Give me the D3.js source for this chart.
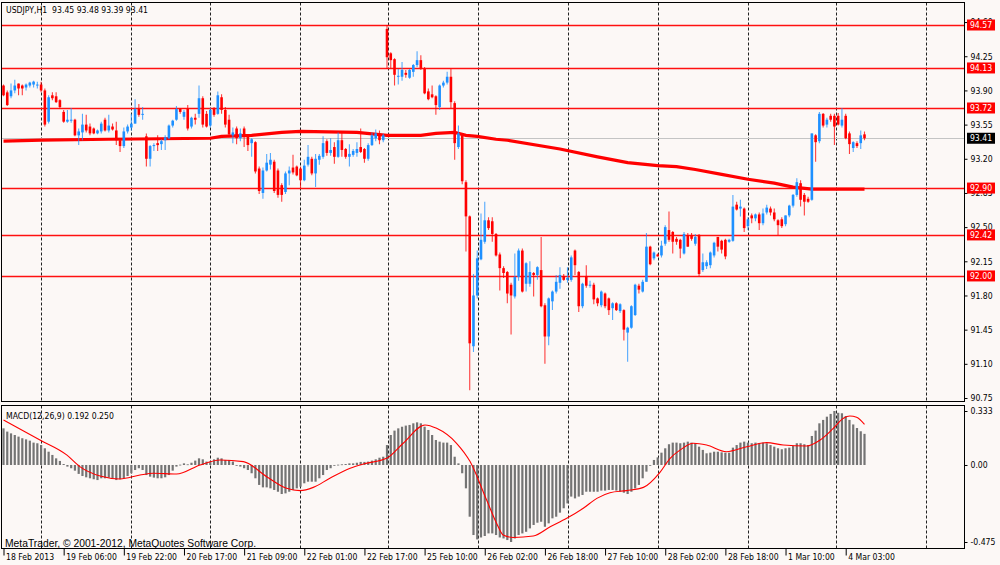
<!DOCTYPE html>
<html lang="en">
<head>
<meta charset="UTF-8">
<title>USDJPY,H1</title>
<script src="https://d3js.org/d3.v7.min.js"></script>
<style>
    body { margin: 0; background: #fcf8f6; }
    svg { display: block; }
    text { font-family: "DejaVu Sans Condensed", "DejaVu Sans", sans-serif; font-size: 8.6px; fill: #000; }
    .axis path { display: none; }
    .axis line { stroke: #000; }
    .grid line { stroke: #222; stroke-dasharray: 3,2; }
</style>
</head>
<body>
<svg width="1000" height="565"></svg>
<script>
    // Hourly candles, one entry per bar
    const barOpen = [
        93.95,93.88,93.84,93.90,93.97,93.95,93.93,93.95,93.96,93.95,93.96,93.90,93.58,93.85,93.84,93.80,93.68,93.58,93.59,93.60,
        93.44,93.47,93.55,93.53,93.51,93.46,93.48,93.60,93.49,93.53,93.49,93.39,93.33,93.48,93.52,93.56,93.71,93.65,93.43,93.20,
        93.33,93.36,93.35,93.39,93.41,93.54,93.60,93.71,93.63,93.71,93.53,93.62,93.66,93.82,93.66,93.54,93.71,93.66,93.83,93.70,
        93.60,93.44,93.51,93.41,93.51,93.44,93.36,93.37,93.10,92.85,93.08,93.14,93.17,93.08,92.93,92.86,93.05,93.11,93.12,93.10,
        92.98,93.14,93.20,93.05,93.19,93.22,93.38,93.26,93.32,93.22,93.39,93.30,93.22,93.24,93.26,93.32,93.30,93.20,93.34,93.41,
        93.44,93.39,94.53,94.28,94.22,94.04,94.04,94.08,94.03,94.09,94.16,94.21,94.12,93.89,93.86,93.84,93.73,93.95,93.98,94.04,
        93.77,93.32,93.44,92.96,92.61,91.28,91.80,92.17,92.35,92.57,92.56,92.43,92.22,92.08,92.04,91.91,91.79,91.99,92.26,91.92,
        91.92,92.03,92.01,92.06,91.70,91.38,91.74,91.84,91.93,92.00,91.96,91.96,92.26,92.04,91.69,92.00,91.90,91.91,91.77,91.70,
        91.82,91.77,91.67,91.72,91.64,91.65,91.42,91.47,91.60,91.90,91.84,91.94,92.30,92.18,92.22,92.21,92.33,92.47,92.45,92.38,
        92.37,92.23,92.42,92.42,92.33,92.42,92.06,92.10,92.11,92.21,92.40,92.36,92.37,92.35,92.36,92.73,92.69,92.69,92.51,92.62,
        92.59,92.63,92.54,92.65,92.69,92.65,92.57,92.58,92.53,92.62,92.72,92.83,92.95,92.83,92.79,92.78,93.44,93.38,93.66,93.55,
        93.64,93.64,93.64,93.54,93.64,93.46,93.31,93.36,93.36,93.45
    ];
    const barHigh = [
        93.96,93.90,93.97,94.01,93.97,93.96,93.97,93.99,94.00,93.99,93.99,93.92,93.85,93.88,93.88,93.81,93.70,93.70,93.72,93.61,
        93.51,93.66,93.65,93.56,93.52,93.50,93.58,93.62,93.65,93.56,93.58,93.40,93.52,93.55,93.66,93.81,93.76,93.73,93.46,93.34,
        93.36,93.44,93.40,93.44,93.55,93.60,93.74,93.72,93.70,93.75,93.63,93.66,93.95,93.84,93.69,93.72,93.73,93.89,93.86,93.73,
        93.65,93.52,93.53,93.51,93.53,93.45,93.41,93.38,93.12,93.11,93.25,93.26,93.19,93.10,92.95,93.07,93.12,93.24,93.13,93.12,
        93.19,93.34,93.22,93.25,93.25,93.43,93.40,93.41,93.37,93.47,93.47,93.31,93.35,93.30,93.37,93.51,93.31,93.36,93.47,93.50,
        93.49,93.46,94.57,94.29,94.23,94.12,94.19,94.11,94.12,94.17,94.30,94.26,94.14,93.92,93.95,93.85,93.96,94.00,94.09,94.12,
        93.79,93.54,93.46,92.98,92.62,92.02,92.26,92.64,92.76,92.60,92.60,92.44,92.24,92.10,92.05,91.93,92.23,92.28,92.28,92.14,
        92.15,92.04,92.10,92.40,91.72,91.78,91.85,92.01,92.09,92.02,92.09,92.21,92.27,92.05,91.93,92.11,91.95,91.93,91.78,91.85,
        91.83,91.78,91.73,91.73,91.72,91.66,91.48,91.70,91.92,91.92,91.96,92.44,92.31,92.25,92.23,92.36,92.52,92.66,92.46,92.40,
        92.38,92.45,92.44,92.44,92.43,92.43,92.23,92.16,92.25,92.35,92.40,92.37,92.38,92.38,92.83,92.76,92.78,92.70,92.60,92.64,
        92.64,92.65,92.69,92.73,92.71,92.69,92.58,92.60,92.62,92.73,92.84,93.00,92.98,92.85,92.81,93.46,93.45,93.68,93.67,93.62,
        93.66,93.66,93.67,93.72,93.66,93.48,93.38,93.38,93.49,93.48
    ];
    const barLow = [
        93.84,93.74,93.82,93.87,93.85,93.85,93.90,93.93,93.93,93.92,93.88,93.53,93.56,93.80,93.77,93.72,93.57,93.57,93.57,93.43,
        93.34,93.39,93.47,93.44,93.45,93.45,93.46,93.48,93.47,93.49,93.34,93.27,93.31,93.46,93.49,93.56,93.63,93.60,93.12,93.12,
        93.28,93.28,93.29,93.29,93.40,93.52,93.59,93.66,93.60,93.49,93.51,93.55,93.62,93.52,93.52,93.52,93.63,93.65,93.66,93.52,
        93.42,93.36,93.35,93.38,93.32,93.28,93.22,93.05,92.84,92.79,93.07,93.09,92.85,92.80,92.76,92.84,92.93,93.04,93.02,92.90,
        92.97,93.12,93.03,92.91,93.14,93.20,93.23,93.23,93.15,93.21,93.22,93.20,93.12,93.22,93.22,93.26,93.16,93.18,93.33,93.38,
        93.35,93.37,94.12,94.13,93.95,93.96,94.00,94.03,94.02,94.04,94.14,94.11,93.86,93.80,93.82,93.65,93.70,93.93,93.96,93.72,
        93.19,93.30,92.94,92.25,90.83,91.22,91.77,92.16,92.33,92.47,92.35,92.20,91.85,91.98,91.72,91.40,91.77,91.95,91.83,91.84,
        91.89,91.79,91.96,91.68,91.10,91.29,91.65,91.82,91.87,91.95,91.93,91.94,92.01,91.63,91.67,91.88,91.88,91.71,91.69,91.68,
        91.67,91.60,91.55,91.64,91.62,91.34,91.12,91.46,91.59,91.82,91.83,91.94,92.11,92.16,92.20,92.19,92.31,92.35,92.23,92.32,
        92.18,92.22,92.30,92.36,92.31,92.00,92.04,92.07,92.08,92.19,92.25,92.23,92.17,92.34,92.35,92.67,92.61,92.45,92.47,92.54,
        92.56,92.47,92.52,92.63,92.62,92.56,92.42,92.49,92.51,92.60,92.70,92.81,92.71,92.62,92.75,92.77,93.17,93.36,93.52,93.52,
        93.58,93.34,93.54,93.52,93.40,93.25,93.27,93.31,93.30,93.39
    ];
    const barClose = [
        93.85,93.75,93.90,93.95,93.92,93.92,93.96,93.98,93.99,93.96,93.90,93.55,93.83,93.82,93.78,93.73,93.58,93.60,93.60,93.44,
        93.48,93.55,93.49,93.46,93.46,93.49,93.56,93.49,93.54,93.50,93.39,93.33,93.48,93.53,93.56,93.71,93.65,93.66,93.20,93.33,
        93.34,93.34,93.38,93.42,93.54,93.59,93.71,93.68,93.68,93.51,93.62,93.60,93.82,93.55,93.53,93.70,93.65,93.85,93.70,93.55,
        93.45,93.47,93.41,93.46,93.43,93.34,93.40,93.07,92.87,93.08,93.16,93.19,92.87,92.83,92.83,93.05,93.08,93.06,93.03,92.98,
        93.13,93.22,93.05,93.20,93.23,93.36,93.26,93.29,93.22,93.39,93.29,93.22,93.25,93.28,93.30,93.27,93.20,93.34,93.44,93.46,
        93.39,93.44,94.24,94.21,94.06,94.05,94.11,94.06,94.11,94.16,94.21,94.13,93.87,93.81,93.83,93.75,93.95,93.98,94.04,93.78,
        93.36,93.46,92.97,92.61,91.31,91.80,92.18,92.37,92.57,92.49,92.43,92.21,92.08,92.03,91.82,91.80,91.99,92.26,91.84,92.13,
        92.04,92.01,92.09,91.69,91.38,91.77,91.84,91.94,92.01,91.96,91.98,92.19,92.11,91.69,91.92,91.90,91.91,91.76,91.72,91.84,
        91.69,91.65,91.72,91.65,91.71,91.45,91.47,91.69,91.91,91.86,91.94,92.30,92.12,92.24,92.20,92.31,92.50,92.37,92.35,92.35,
        92.28,92.43,92.30,92.38,92.40,92.02,92.14,92.14,92.24,92.34,92.30,92.27,92.20,92.37,92.71,92.68,92.71,92.49,92.58,92.59,
        92.63,92.54,92.64,92.70,92.65,92.58,92.52,92.51,92.62,92.72,92.83,92.96,92.78,92.76,92.76,93.46,93.37,93.66,93.54,93.60,
        93.60,93.53,93.55,93.60,93.41,93.35,93.37,93.33,93.44,93.41
    ];

    // Moving average, read as a polyline (bar index, price)
    const maBars   = [0, 10, 28, 55, 58, 66, 74, 79, 94, 102, 111, 115, 120, 123, 126, 131, 134, 148, 158, 166, 174, 179, 184, 191, 198, 205, 210, 215, 229];
    const maValues = [93.38, 93.39, 93.40, 93.41, 93.43, 93.44, 93.47, 93.48, 93.47, 93.44, 93.44, 93.46, 93.47, 93.44, 93.43, 93.40, 93.39, 93.30, 93.22, 93.16, 93.13, 93.12, 93.09, 93.04, 92.99, 92.95, 92.91, 92.89, 92.89];

    // MACD(12,26,9) main histogram, one value per bar
    const macdMain = [
        0.226,0.206,0.195,0.185,0.175,0.165,0.158,0.150,0.138,0.134,0.123,0.103,0.082,0.062,0.041,0.025,0.006,-0.010,-0.020,-0.035,
        -0.055,-0.068,-0.076,-0.082,-0.088,-0.093,-0.082,-0.082,-0.078,-0.082,-0.093,-0.088,-0.082,-0.068,-0.051,-0.031,-0.020,-0.031,-0.062,-0.072,
        -0.078,-0.082,-0.082,-0.076,-0.062,-0.035,-0.010,0.002,0.010,0.004,0.014,0.027,0.041,0.035,0.021,0.021,0.035,0.045,0.041,0.031,
        0.031,0.021,0.000,-0.010,-0.020,-0.031,-0.051,-0.082,-0.123,-0.138,-0.138,-0.144,-0.154,-0.165,-0.179,-0.175,-0.165,-0.154,-0.144,-0.134,
        -0.113,-0.103,-0.103,-0.103,-0.082,-0.062,-0.031,-0.020,-0.002,0.002,0.004,0.006,0.010,0.010,0.014,0.019,0.019,0.021,0.027,0.035,
        0.045,0.051,0.123,0.185,0.212,0.226,0.236,0.243,0.247,0.257,0.263,0.257,0.236,0.216,0.185,0.154,0.144,0.138,0.138,0.123,
        0.051,0.010,-0.051,-0.144,-0.319,-0.432,-0.459,-0.447,-0.438,-0.422,-0.422,-0.432,-0.447,-0.453,-0.463,-0.475,-0.453,-0.432,-0.422,-0.412,
        -0.391,-0.370,-0.356,-0.350,-0.381,-0.360,-0.329,-0.319,-0.294,-0.267,-0.237,-0.195,-0.206,-0.195,-0.185,-0.165,-0.165,-0.165,-0.165,-0.158,
        -0.158,-0.154,-0.154,-0.158,-0.165,-0.171,-0.179,-0.165,-0.144,-0.123,-0.082,-0.041,-0.004,0.031,0.047,0.076,0.103,0.128,0.138,0.138,
        0.134,0.138,0.144,0.138,0.134,0.113,0.093,0.072,0.076,0.082,0.082,0.078,0.076,0.076,0.107,0.123,0.138,0.144,0.138,0.134,
        0.138,0.134,0.138,0.134,0.123,0.113,0.103,0.097,0.103,0.107,0.117,0.134,0.134,0.128,0.123,0.179,0.212,0.257,0.278,0.298,
        0.315,0.333,0.322,0.319,0.302,0.278,0.250,0.228,0.208,0.192
    ];
    // MACD signal line, read as a polyline (bar index, value)
    const signalBars   = [0, 9.7, 16.8, 20.3, 25.7, 31, 36.3, 39.8, 46, 52.3, 57.6, 63.8, 70, 75.3, 78.9, 82.4, 86.8, 92.2, 95.7, 101.9, 106.3, 112.1, 115.2, 120.5, 124.1, 128.5, 131.2, 132.9, 135.6, 140.9, 145.4, 149.8, 154.2, 157.8, 161.3, 165.7, 170.2, 174.6, 177.3, 180, 183.5, 187, 192.3, 197.7, 203, 207.4, 213.6, 217.2, 220.7, 223.4, 225.1, 226.9, 229];
    const signalValues = [0.278, 0.154, 0.062, -0.010, -0.068, -0.086, -0.062, -0.051, -0.056, 0.000, 0.031, 0.021, -0.072, -0.144, -0.158, -0.138, -0.082, -0.020, 0.006, 0.041, 0.134, 0.247, 0.226, 0.134, 0.021, -0.216, -0.362, -0.432, -0.447, -0.438, -0.381, -0.329, -0.267, -0.206, -0.171, -0.158, -0.138, -0.045, 0.041, 0.093, 0.134, 0.123, 0.082, 0.113, 0.138, 0.123, 0.117, 0.154, 0.226, 0.288, 0.302, 0.294, 0.250];

    // Horizontal price levels and the bid line
    const levelPrices = [94.57, 94.13, 93.72, 92.90, 92.42, 92.00];
    const bidPrice = 93.41;

    // Axis ticks
    const priceTicks = [90.75, 91.10, 91.45, 91.80, 92.15, 92.50, 92.85, 93.20, 93.55, 93.90, 94.25, 94.60];
    const macdTicks = [0.333, 0, -0.475];
    const macdTickLabels = ["0.333", "0.00", "-0.475"];
    const timeTickBars = [0, 16, 32, 48, 64, 80, 96, 112, 128, 144, 160, 176, 192, 208, 224];
    const timeTickLabels = ["18 Feb 2013", "19 Feb 06:00", "19 Feb 22:00", "20 Feb 17:00", "21 Feb 09:00", "22 Feb 01:00", "22 Feb 17:00",
        "25 Feb 10:00", "26 Feb 02:00", "26 Feb 18:00", "27 Feb 10:00", "28 Feb 02:00", "28 Feb 18:00", "1 Mar 10:00", "4 Mar 03:00"];
    // day separators (bar positions of the dashed grid)
    const daySepBars = [9.97, 33.9, 54.9, 78.9, 102.3, 126.2, 150.1, 174.1, 198, 221.4, 245.3];

    const svg = d3.select("svg");
    const left = 1.5, right = 964.5;
    const main = {top: 2.5, bottom: 401.5};
    const sub = {top: 405.5, bottom: 548.5};

    const x = d3.scaleLinear().domain([0, 229]).range([3.5, 864.5]);
    const yPrice = d3.scaleLinear().domain([90.75, 94.57]).range([398, 25]);
    const yMacd = d3.scaleLinear().domain([-0.475, 0.333]).range([542, 411]);

    const bars = d3.range(barClose.length);

    // clip paths for both panels
    const defs = svg.append("defs");
    defs.append("clipPath").attr("id", "clipMain").append("rect")
        .attr("x", left).attr("y", main.top).attr("width", right - left).attr("height", main.bottom - main.top);
    defs.append("clipPath").attr("id", "clipSub").append("rect")
        .attr("x", left).attr("y", sub.top).attr("width", right - left).attr("height", sub.bottom - sub.top);

    const gMain = svg.append("g").attr("clip-path", "url(#clipMain)");
    const gSub = svg.append("g").attr("clip-path", "url(#clipSub)");

    // dashed day grid in both panels
    [[gMain, main], [gSub, sub]].forEach(([g, p]) => {
        g.append("g").attr("class", "grid")
            .selectAll("line").data(daySepBars).join("line")
            .attr("x1", d => Math.round(x(d)) + 0.5).attr("x2", d => Math.round(x(d)) + 0.5)
            .attr("y1", p.top).attr("y2", p.bottom);
    });

    // bid line
    gMain.append("line")
        .attr("x1", left).attr("x2", right)
        .attr("y1", Math.round(yPrice(bidPrice)) + 0.5).attr("y2", Math.round(yPrice(bidPrice)) + 0.5)
        .attr("stroke", "#c4c4c4");

    // level lines
    gMain.append("g").selectAll("line").data(levelPrices).join("line")
        .attr("x1", left).attr("x2", right)
        .attr("y1", d => Math.round(yPrice(d)) + 0.5).attr("y2", d => Math.round(yPrice(d)) + 0.5)
        .attr("stroke", "#ff1010").attr("stroke-width", 1.3);

    // moving average
    gMain.append("path")
        .datum(maBars)
        .attr("fill", "none").attr("stroke", "#ff0000").attr("stroke-width", 3.2)
        .attr("d", d3.line().x(d => x(d)).y((d, i) => yPrice(maValues[i])));

    // candles
    const bull = "#1e90ff", bear = "#ff0000";
    const candle = gMain.append("g").selectAll("g").data(bars).join("g");
    candle.append("line")
        .attr("x1", i => x(i)).attr("x2", i => x(i))
        .attr("y1", i => yPrice(barHigh[i])).attr("y2", i => yPrice(barLow[i]))
        .attr("stroke", i => barClose[i] >= barOpen[i] ? bull : bear)
        .attr("stroke-opacity", 0.75).attr("stroke-width", 1.1);
    candle.append("rect")
        .attr("x", i => x(i) - 1.3).attr("width", 2.6)
        .attr("y", i => yPrice(Math.max(barOpen[i], barClose[i])))
        .attr("height", i => Math.max(1, Math.abs(yPrice(barOpen[i]) - yPrice(barClose[i]))))
        .attr("fill", i => barClose[i] >= barOpen[i] ? bull : bear);

    // MACD histogram
    gSub.append("g").selectAll("rect").data(bars).join("rect")
        .attr("x", i => x(i) - 1.1).attr("width", 2.2)
        .attr("y", i => Math.min(yMacd(0), yMacd(macdMain[i])))
        .attr("height", i => Math.max(0.8, Math.abs(yMacd(macdMain[i]) - yMacd(0))))
        .attr("fill", "#747474");

    // signal line
    gSub.append("path")
        .datum(signalBars)
        .attr("fill", "none").attr("stroke", "#ff0000").attr("stroke-width", 1.1)
        .attr("d", d3.line().x(d => x(d)).y((d, i) => yMacd(signalValues[i])).curve(d3.curveMonotoneX));

    // panel frames
    [main, sub].forEach(p => {
        svg.append("rect")
            .attr("x", left).attr("y", p.top).attr("width", right - left).attr("height", p.bottom - p.top)
            .attr("fill", "none").attr("stroke", "#000");
    });

    // price axis
    svg.append("g").attr("class", "axis")
        .attr("transform", `translate(${right},0)`)
        .call(d3.axisRight(yPrice).tickValues(priceTicks).tickSize(3).tickPadding(3).tickFormat(d3.format(".2f")));

    // MACD axis
    svg.append("g").attr("class", "axis")
        .attr("transform", `translate(${right},0)`)
        .call(d3.axisRight(yMacd).tickValues(macdTicks).tickSize(3).tickPadding(3)
            .tickFormat((d, i) => macdTickLabels[i]));

    // level and bid labels
    const tags = levelPrices.map(p => ({p, c: "#ff0000"})).concat([{p: bidPrice, c: "#000"}]);
    const tag = svg.append("g").selectAll("g").data(tags).join("g")
        .attr("transform", d => `translate(967,${yPrice(d.p)})`);
    tag.append("rect").attr("x", 0).attr("y", -5.5).attr("width", 28).attr("height", 11).attr("fill", d => d.c);
    tag.append("text").attr("x", 14).attr("y", 3.2).attr("text-anchor", "middle")
        .style("fill", "#fff").text(d => d.p.toFixed(2));

    // time axis
    const tAxis = svg.append("g").attr("class", "axis")
        .attr("transform", `translate(0,${sub.bottom})`)
        .call(d3.axisBottom(x).tickValues(timeTickBars).tickSize(7).tickPadding(0)
            .tickFormat((d, i) => timeTickLabels[i]));
    tAxis.selectAll(".tick text").attr("text-anchor", "start").attr("dx", 2).attr("dy", 0).attr("y", 11);

    // titles
    svg.append("text").attr("x", 6).attr("y", 13).text("USDJPY,H1  93.45 93.48 93.39 93.41").attr("xml:space", "preserve");
    svg.append("text").attr("x", 6).attr("y", 419).text("MACD(12,26,9) 0.192 0.250");
    svg.append("text").attr("x", 5).attr("y", 547)
        .style("font-family", "'Liberation Sans', Arial, sans-serif").style("font-size", "10.3px")
        .text("MetaTrader, © 2001-2012, MetaQuotes Software Corp.");
</script>
</body>
</html>
